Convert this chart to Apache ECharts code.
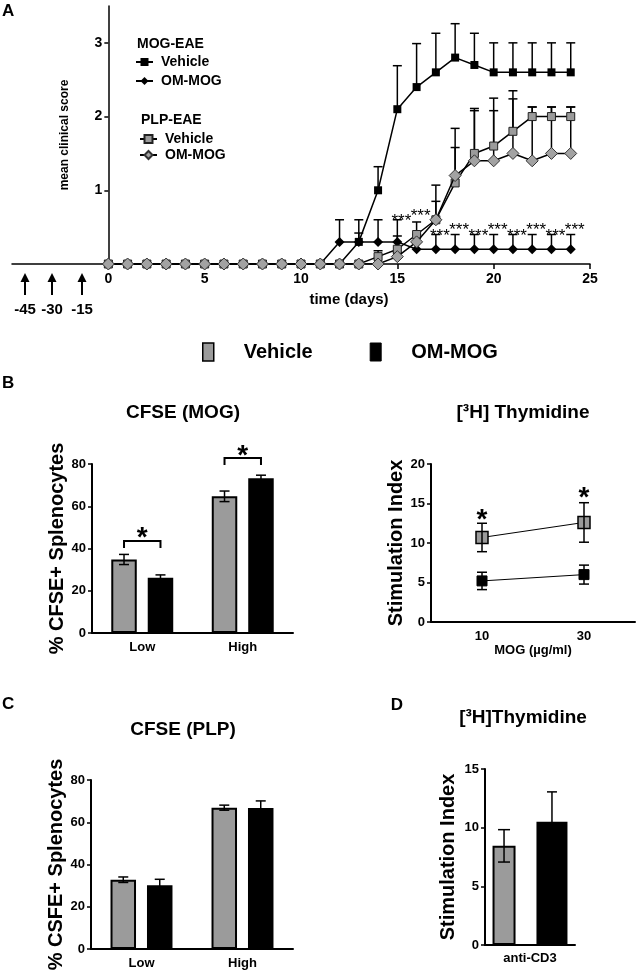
<!DOCTYPE html>
<html>
<head>
<meta charset="utf-8">
<script src="https://cdn.jsdelivr.net/npm/echarts@6.0.0/dist/echarts.min.js"></script>
<style>
html,body{margin:0;padding:0;background:#ffffff;}
#chart{width:638px;height:972px;}
</style>
</head>
<body>
<div id="chart"></div>
<script>
// ================= DATA =================
// Panel A - mean clinical score per day
const days          = [0,1,2,3,4,5,6,7,8,9,10,11,12,13,14,15,16,17,18,19,20,21,22,23,24];
const mogVehicle    = [0,0,0,0,0,0,0,0,0,0,0,0,0,0.3,1.0,2.1,2.4,2.6,2.8,2.7,2.6,2.6,2.6,2.6,2.6];
const mogVehicleErr = [0,0,0,0,0,0,0,0,0,0,0,0,0,0.12,0.32,0.59,0.59,0.53,0.46,0.43,0.4,0.4,0.4,0.4,0.4];
const mogOM         = [0,0,0,0,0,0,0,0,0,0,0,0,0.3,0.3,0.3,0.3,0.2,0.2,0.2,0.2,0.2,0.2,0.2,0.2,0.2];
const mogOMErr      = [0,0,0,0,0,0,0,0,0,0,0,0,0.3,0.3,0.3,0.3,0.2,0.2,0.2,0.2,0.2,0.2,0.2,0.2,0.2];
const plpVehicle    = [0,0,0,0,0,0,0,0,0,0,0,0,0,0,0.1,0.2,0.4,0.6,1.1,1.5,1.6,1.8,2.0,2.0,2.0];
const plpVehicleErr = [0,0,0,0,0,0,0,0,0,0,0,0,0,0,0.08,0.18,0.17,0.25,0.48,0.61,0.65,0.55,0.13,0.13,0.13];
const plpOM         = [0,0,0,0,0,0,0,0,0,0,0,0,0,0,0,0.1,0.3,0.6,1.2,1.4,1.4,1.5,1.4,1.5,1.5];
const plpOMErr      = [0,0,0,0,0,0,0,0,0,0,0,0,0,0,0,0.05,0.1,0.47,0.64,0.68,0.68,0.74,0.73,0.63,0.63];
const starDaysA     = [15,16,17,18,19,20,21,22,23,24];
const starLevelsA   = [0.65,0.71,0.44,0.52,0.44,0.52,0.44,0.52,0.44,0.52];
const dayTicks      = [0,5,10,15,20,25];
const scoreTicks    = [0,1,2,3];
const scoreLabels   = [1,2,3];
const treatmentDays = ['-45','-30','-15'];

// Panel B (left) - CFSE (MOG)
const doseCats         = ['Low','High'];
const cfseMogVehicle   = [34.8, 64.7];
const cfseMogVehicleEr = [2.4, 2.5];
const cfseMogOM        = [26.2, 73.3];
const cfseMogOMEr      = [1.3, 1.4];
const cfseMogBracket   = [43.6, 82.8];   // bracket heights (value units)
const cfseMogStar      = [48.1, 87.2];   // asterisk heights

// Panel B (right) - [3H] Thymidine vs MOG dose
const mogDoses      = ['10','30'];
const thyVehicle    = [10.7, 12.6];
const thyVehicleErr = [1.8, 2.5];
const thyOM         = [5.2, 6.0];
const thyOMErr      = [1.1, 1.2];
const thyStar       = [13.8, 16.5];

// Panel C - CFSE (PLP)
const cfsePlpVehicle   = [32.8, 66.9];
const cfsePlpVehicleEr = [1.3, 1.2];
const cfsePlpOM        = [30.2, 66.7];
const cfsePlpOMEr      = [2.8, 3.4];

// Panel D - [3H]Thymidine anti-CD3
const cd3Cats       = ['anti-CD3'];
const cd3Vehicle    = [8.45];
const cd3VehicleErr = [1.38];
const cd3OM         = [10.5];
const cd3OMErr      = [2.55];

// ================= STYLE =================
const FONT = '"Liberation Sans", Arial, Helvetica, sans-serif';
const GRAY = '#9b9b9b';
const DGRAY = '#a2a2a2';
const BLACK = '#000000';

function bold(size){ return 'bold ' + size + 'px ' + FONT; }

function barOffsets(widths, gap){
  let sum = 0;
  widths.forEach(w => sum += w * (1 + gap));
  sum -= widths[widths.length-1] * gap;
  let off = -sum / 2;
  return widths.map(w => { const c = off + w / 2; off += w * (1 + gap); return c; });
}

function axisCommon(extra){
  return Object.assign({
    axisLine:{show:true, onZero:false, lineStyle:{color:BLACK, width:2}},
    axisTick:{show:true, length:4, lineStyle:{color:BLACK, width:1.5}},
    axisLabel:{color:BLACK, fontFamily:FONT, fontWeight:'bold', fontSize:13, margin:6},
    splitLine:{show:false}
  }, extra);
}

// upper-only error bars (panel A)
function upperErr(name, vals, errs){
  return {
    type:'custom', name:name, xAxisIndex:0, yAxisIndex:0, silent:true, z:1,
    data: days.map((d,i)=>[d, vals[i], vals[i]+errs[i], errs[i]]),
    encode:{x:0, y:[1,2]},
    renderItem:function(params, api){
      if (api.value(3) <= 0) return null;
      const p0 = api.coord([api.value(0), api.value(1)]);
      const p1 = api.coord([api.value(0), api.value(2)]);
      const hw = 4.5;
      return {type:'group', children:[
        {type:'line', shape:{x1:p0[0],y1:p0[1],x2:p1[0],y2:p1[1]}, style:{stroke:BLACK, lineWidth:1.5}},
        {type:'line', shape:{x1:p1[0]-hw,y1:p1[1],x2:p1[0]+hw,y2:p1[1]}, style:{stroke:BLACK, lineWidth:1.5}}
      ]};
    }
  };
}

// symmetric error bars on category axes
function catErr(name, idx, vals, errs, offsetPx, capHalf){
  return {
    type:'custom', name:name, xAxisIndex:idx, yAxisIndex:idx, silent:true, z:5,
    data: vals.map((v,i)=>[i, v-errs[i], v+errs[i]]),
    encode:{x:0, y:[1,2]},
    renderItem:function(params, api){
      const lo = api.coord([api.value(0), api.value(1)]);
      const hi = api.coord([api.value(0), api.value(2)]);
      const x = lo[0] + offsetPx;
      return {type:'group', children:[
        {type:'line', shape:{x1:x,y1:lo[1],x2:x,y2:hi[1]}, style:{stroke:BLACK, lineWidth:1.5}},
        {type:'line', shape:{x1:x-capHalf,y1:hi[1],x2:x+capHalf,y2:hi[1]}, style:{stroke:BLACK, lineWidth:1.5}},
        {type:'line', shape:{x1:x-capHalf,y1:lo[1],x2:x+capHalf,y2:lo[1]}, style:{stroke:BLACK, lineWidth:1.5}}
      ]};
    }
  };
}

// layout constants
const BW_B = 25.5, GAP_B = 0.43;
const offB = barOffsets([BW_B, BW_B], GAP_B);
const BW_D1 = 23, BW_D2 = 31, GAP_D = 0.91;
const offD = barOffsets([BW_D1, BW_D2], GAP_D);

function barSeries(name, idx, vals, color, width, gap){
  return {type:'bar', name:name, xAxisIndex:idx, yAxisIndex:idx, data:vals,
    barWidth:width, barGap:(gap*100)+'%',
    itemStyle:{color:color, borderColor:BLACK, borderWidth:2}, z:2};
}

const gridsDef = [
  {left:12,  top:6,   width:578, height:258, outerBoundsMode:'none', containLabel:false},   // A
  {left:92,  top:464, width:201, height:169, outerBoundsMode:'none', containLabel:false},   // B left
  {left:431, top:464, width:204, height:158, outerBoundsMode:'none', containLabel:false},   // B right
  {left:91,  top:780, width:202, height:169, outerBoundsMode:'none', containLabel:false},   // C
  {left:485, top:769, width:90,  height:176, outerBoundsMode:'none', containLabel:false}    // D
];
const A_XMIN = -5, A_XMAX = 25;
// y axis of panel A sits on day 0: shift it into the grid by the scale distance of day 0
const A_YAXIS_OFFSET = -gridsDef[0].width * (0 - A_XMIN) / (A_XMAX - A_XMIN);

const option = {
  animation:false,
  backgroundColor:'#ffffff',
  textStyle:{fontFamily:FONT},
  grid: gridsDef,
  legend:[
    {left:197, top:337, padding:5, itemWidth:11, itemHeight:18, itemGap:57, icon:'rect', selectedMode:false,
     data:[{name:'Vehicle', itemStyle:{color:GRAY, borderColor:BLACK, borderWidth:1.5}},
           {name:'OM-MOG', itemStyle:{color:BLACK, borderColor:BLACK, borderWidth:1}}],
     textStyle:{fontSize:20, fontWeight:'bold', fontFamily:FONT, color:BLACK, padding:[0,0,0,25]}},
    {left:130, top:50, orient:'vertical', itemWidth:17, itemHeight:10, itemGap:5, selectedMode:false,
     data:['MOG-EAE Vehicle','MOG-EAE OM-MOG'],
     formatter:n=>n.replace('MOG-EAE ',''),
     textStyle:{fontSize:14, fontWeight:'bold', fontFamily:FONT, color:BLACK, lineHeight:14, padding:[0,0,0,3]}},
    {left:134, top:127, orient:'vertical', itemWidth:17, itemHeight:10, itemGap:2, selectedMode:false,
     data:['PLP-EAE Vehicle','PLP-EAE OM-MOG'],
     formatter:n=>n.replace('PLP-EAE ',''),
     textStyle:{fontSize:14, fontWeight:'bold', fontFamily:FONT, color:BLACK, lineHeight:14, padding:[0,0,0,3]}}
  ],
  xAxis:[
    axisCommon({gridIndex:0, type:'value', min:A_XMIN, max:A_XMAX, interval:5,
      axisLine:{show:true, onZero:false, lineStyle:{color:BLACK, width:1.5}},
      axisTick:{show:true, length:5, customValues:dayTicks, lineStyle:{color:BLACK, width:1.5}},
      axisLabel:{color:BLACK, fontFamily:FONT, fontWeight:'bold', fontSize:14, margin:8, customValues:dayTicks,
        formatter:v=> v < 0 ? '' : String(v)}}),
    axisCommon({gridIndex:1, type:'category', data:doseCats, axisTick:{show:false},
      axisLabel:{color:BLACK, fontFamily:FONT, fontWeight:'bold', fontSize:13, margin:8}}),
    axisCommon({gridIndex:2, type:'category', data:mogDoses, boundaryGap:true, axisTick:{show:false},
      axisLabel:{color:BLACK, fontFamily:FONT, fontWeight:'bold', fontSize:13, margin:8},
      name:'MOG (\u00b5g/ml)', nameLocation:'middle', nameGap:21,
      nameTextStyle:{color:BLACK, fontFamily:FONT, fontWeight:'bold', fontSize:13}}),
    axisCommon({gridIndex:3, type:'category', data:doseCats, axisTick:{show:false},
      axisLabel:{color:BLACK, fontFamily:FONT, fontWeight:'bold', fontSize:13, margin:8}}),
    axisCommon({gridIndex:4, type:'category', data:cd3Cats, axisTick:{show:false},
      axisLabel:{color:BLACK, fontFamily:FONT, fontWeight:'bold', fontSize:13, margin:7}})
  ],
  yAxis:[
    axisCommon({gridIndex:0, type:'value', min:0, max:3.5, interval:1, offset:A_YAXIS_OFFSET,
      axisLine:{show:true, onZero:false, lineStyle:{color:BLACK, width:1.5}},
      axisTick:{show:true, length:4, customValues:scoreLabels, lineStyle:{color:BLACK, width:1.5}},
      axisLabel:{color:BLACK, fontFamily:FONT, fontWeight:'bold', fontSize:14, margin:6, customValues:scoreLabels},
      name:'mean clinical score', nameLocation:'middle', nameGap:38, nameRotate:90,
      nameTextStyle:{color:BLACK, fontFamily:FONT, fontWeight:'bold', fontSize:12}}),
    axisCommon({gridIndex:1, type:'value', min:0, max:80, interval:20,
      name:'% CFSE+ Splenocytes', nameLocation:'middle', nameGap:21, nameRotate:90,
      nameTextStyle:{color:BLACK, fontFamily:FONT, fontWeight:'bold', fontSize:20}}),
    axisCommon({gridIndex:2, type:'value', min:0, max:20, interval:5,
      name:'Stimulation Index', nameLocation:'middle', nameGap:21, nameRotate:90,
      nameTextStyle:{color:BLACK, fontFamily:FONT, fontWeight:'bold', fontSize:20}}),
    axisCommon({gridIndex:3, type:'value', min:0, max:80, interval:20,
      name:'% CSFE+ Splenocytes', nameLocation:'middle', nameGap:21, nameRotate:90,
      nameTextStyle:{color:BLACK, fontFamily:FONT, fontWeight:'bold', fontSize:20}}),
    axisCommon({gridIndex:4, type:'value', min:0, max:15, interval:5,
      name:'Stimulation Index', nameLocation:'middle', nameGap:27, nameRotate:90,
      nameTextStyle:{color:BLACK, fontFamily:FONT, fontWeight:'bold', fontSize:20}})
  ],
  series:[
    // ---- B left bars ----
    barSeries('Vehicle', 1, cfseMogVehicle, GRAY, BW_B, GAP_B),
    barSeries('OM-MOG', 1, cfseMogOM, BLACK, BW_B, GAP_B),
    catErr('errB1v', 1, cfseMogVehicle, cfseMogVehicleEr, offB[0], 5),
    catErr('errB1o', 1, cfseMogOM, cfseMogOMEr, offB[1], 5),
    {type:'custom', name:'sigB1', xAxisIndex:1, yAxisIndex:1, silent:true, z:6,
     data: doseCats.map((c,i)=>[i, cfseMogBracket[i], cfseMogStar[i]]),
     encode:{x:0, y:1},
     renderItem:function(p, api){
       const b = api.coord([api.value(0), api.value(1)]);
       const s = api.coord([api.value(0), api.value(2)]);
       const x1 = b[0] + offB[0], x2 = b[0] + offB[1], leg = 7;
       return {type:'group', children:[
         {type:'polyline', shape:{points:[[x1,b[1]+leg],[x1,b[1]],[x2,b[1]],[x2,b[1]+leg]]}, style:{stroke:BLACK, lineWidth:2, fill:null}},
         {type:'text', x:(x1+x2)/2, y:s[1]+7, style:{text:'*', font:bold(28), fill:BLACK, align:'center', verticalAlign:'middle'}}
       ]};
     }},
    // ---- B right lines ----
    {type:'line', name:'Vehicle', xAxisIndex:2, yAxisIndex:2, data:thyVehicle, symbol:'rect', symbolSize:12, z:4,
     lineStyle:{color:BLACK, width:1}, itemStyle:{color:GRAY, borderColor:BLACK, borderWidth:1.5}},
    {type:'line', name:'OM-MOG', xAxisIndex:2, yAxisIndex:2, data:thyOM, symbol:'rect', symbolSize:10, z:4,
     lineStyle:{color:BLACK, width:1}, itemStyle:{color:BLACK, borderColor:BLACK, borderWidth:1}},
    catErr('errB2v', 2, thyVehicle, thyVehicleErr, 0, 5),
    catErr('errB2o', 2, thyOM, thyOMErr, 0, 5),
    {type:'custom', name:'sigB2', xAxisIndex:2, yAxisIndex:2, silent:true, z:6,
     data: mogDoses.map((c,i)=>[i, thyStar[i]]),
     encode:{x:0, y:1},
     renderItem:function(p, api){
       const s = api.coord([api.value(0), api.value(1)]);
       return {type:'text', x:s[0], y:s[1]+7, style:{text:'*', font:bold(28), fill:BLACK, align:'center', verticalAlign:'middle'}};
     }},
    // ---- C bars ----
    barSeries('Vehicle', 3, cfsePlpVehicle, GRAY, BW_B, GAP_B),
    barSeries('OM-MOG', 3, cfsePlpOM, BLACK, BW_B, GAP_B),
    catErr('errCv', 3, cfsePlpVehicle, cfsePlpVehicleEr, offB[0], 5),
    catErr('errCo', 3, cfsePlpOM, cfsePlpOMEr, offB[1], 5),
    // ---- D bars ----
    barSeries('Vehicle', 4, cd3Vehicle, GRAY, BW_D1, GAP_D),
    barSeries('OM-MOG', 4, cd3OM, BLACK, BW_D2, GAP_D),
    catErr('errDv', 4, cd3Vehicle, cd3VehicleErr, offD[0], 6),
    catErr('errDo', 4, cd3OM, cd3OMErr, offD[1], 5),
    // ---- A ----
    upperErr('errA1', mogVehicle, mogVehicleErr),
    upperErr('errA2', mogOM, mogOMErr),
    upperErr('errA3', plpVehicle, plpVehicleErr),
    upperErr('errA4', plpOM, plpOMErr),
    {type:'line', name:'MOG-EAE Vehicle', xAxisIndex:0, yAxisIndex:0, data:days.map((d,i)=>[d, mogVehicle[i]]),
     symbol:'rect', symbolSize:8, z:2, lineStyle:{color:BLACK, width:1.5}, itemStyle:{color:BLACK}},
    {type:'line', name:'MOG-EAE OM-MOG', xAxisIndex:0, yAxisIndex:0, data:days.map((d,i)=>[d, mogOM[i]]),
     symbol:'diamond', symbolSize:10, z:3, lineStyle:{color:BLACK, width:1.5}, itemStyle:{color:BLACK}},
    {type:'line', name:'PLP-EAE Vehicle', xAxisIndex:0, yAxisIndex:0, data:days.map((d,i)=>[d, plpVehicle[i]]),
     symbol:'rect', symbolSize:8, z:3, lineStyle:{color:BLACK, width:1.5}, itemStyle:{color:GRAY, borderColor:'#222', borderWidth:1}},
    {type:'line', name:'PLP-EAE OM-MOG', xAxisIndex:0, yAxisIndex:0, data:days.map((d,i)=>[d, plpOM[i]]),
     symbol:'diamond', symbolSize:12, z:4, lineStyle:{color:BLACK, width:1.5}, itemStyle:{color:DGRAY, borderColor:'#333', borderWidth:1}},
    {type:'custom', name:'sigA', xAxisIndex:0, yAxisIndex:0, silent:true, z:6,
     data: starDaysA.map((d,i)=>[d, starLevelsA[i]]),
     encode:{x:0, y:1},
     renderItem:function(p, api){
       const c = api.coord([api.value(0), api.value(1)]);
       return {type:'text', x:c[0]+4, y:c[1]+5, style:{text:'***', font:'17px '+FONT, fill:BLACK, align:'center', verticalAlign:'middle'}};
     }}
  ],
  graphic:[]
};

// ---- annotation graphics (titles, panel letters, treatment arrows) ----
const G = option.graphic;
function txt(t, x, y, font, align){
  G.push({type:'text', x:x, y:y, silent:true, style:{text:t, font:font, fill:BLACK, align:align||'center', verticalAlign:'middle'}});
}
txt('A', 2, 11, bold(17), 'left');
txt('MOG-EAE', 137, 44, bold(14), 'left');
txt('PLP-EAE', 141, 120, bold(14), 'left');
txt('time (days)', 349, 300, bold(15));
txt('B', 2, 383, bold(17), 'left');
txt('CFSE (MOG)', 183, 413, bold(19));
txt('[\u00b3H] Thymidine', 523, 413, bold(19));
txt('C', 2, 704, bold(17), 'left');
txt('CFSE (PLP)', 183, 730, bold(19));
txt('D', 397, 705, bold(17), 'center');
txt('[\u00b3H]Thymidine', 523, 718, bold(19));
const arrowX = [25, 52, 82];
treatmentDays.forEach((lab, i) => {
  const x = arrowX[i];
  G.push({type:'line', silent:true, shape:{x1:x, y1:295, x2:x, y2:280}, style:{stroke:BLACK, lineWidth:2}});
  G.push({type:'polygon', silent:true, shape:{points:[[x-4.5,282],[x+4.5,282],[x,273]]}, style:{fill:BLACK}});
  txt(lab, x, 310, bold(15));
});

const chart = echarts.init(document.getElementById('chart'), null, {renderer:'canvas'});
chart.setOption(option);
</script>
</body>
</html>
